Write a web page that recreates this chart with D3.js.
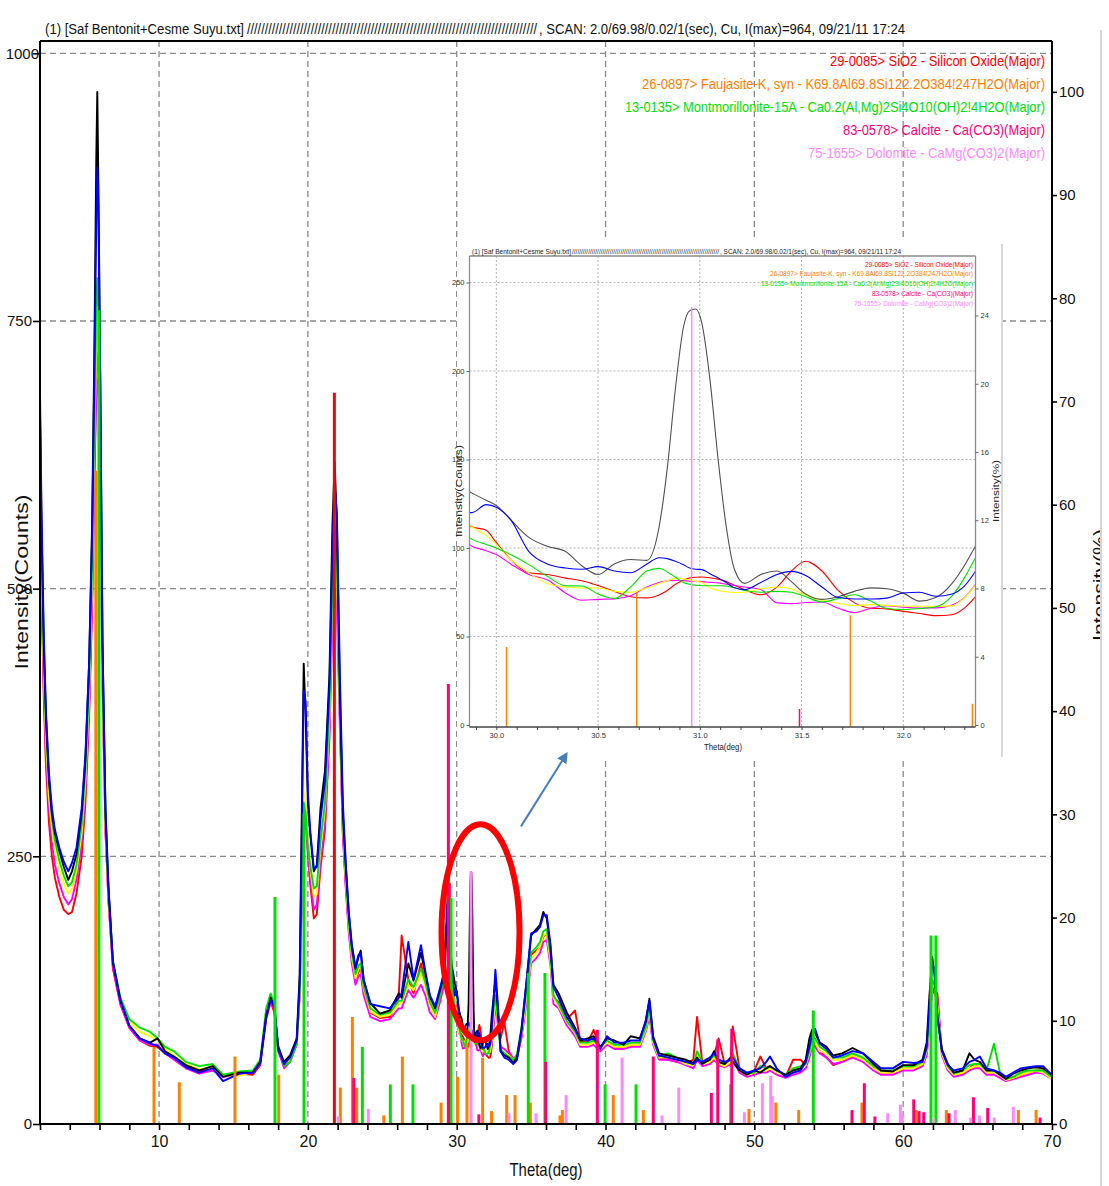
<!DOCTYPE html>
<html>
<head>
<meta charset="utf-8">
<script src="https://cdn.jsdelivr.net/npm/d3@7/dist/d3.min.js"></script>
<style>
  html, body { margin:0; padding:0; background:#ffffff; }
  svg { display:block; }
  text { font-family: "Liberation Sans Narrow", "Liberation Sans", Arial, sans-serif; }
</style>
</head>
<body>
<svg id="chart" width="1109" height="1186"></svg>
<script>
// ---------------- DATA ----------------
const imax = 964;
const titlePrefix = "(1) [Saf Bentonit+Cesme Suyu.txt]";
const titleSlashes = "//////////////////////////////////////////////////////////////////////////////////";
const titleSuffix = ", SCAN: 2.0/69.98/0.02/1(sec), Cu, I(max)=964, 09/21/11 17:24";

const phaseLabels = [
  "29-0085> SiO2 - Silicon Oxide(Major)",
  "26-0897> Faujasite-K, syn - K69.8Al69.8Si122.2O384!247H2O(Major)",
  "13-0135> Montmorillonite-15A - Ca0.2(Al,Mg)2Si4O10(OH)2!4H2O(Major)",
  "83-0578> Calcite - Ca(CO3)(Major)",
  "75-1655> Dolomite - CaMg(CO3)2(Major)"
];

const xTickLabelsMain = [10, 20, 30, 40, 50, 60, 70];
const countTicks = [0, 250, 500, 750, 1000];
const pctTicks = [0, 10, 20, 30, 40, 50, 60, 70, 80, 90, 100];
const insetXTickLabels = [30.0, 30.5, 31.0, 31.5, 32.0];
const insetCountTicks = [0, 50, 100, 150, 200, 250];
const insetPctTicks = [0, 4, 8, 12, 16, 20, 24];

// 2-theta sampling (deg)
const thetaLow = [
  2.0, 2.1, 2.25, 2.4, 2.6, 2.8, 3.0, 3.3, 3.6, 3.9,
  4.15, 4.45, 4.8, 5.05, 5.3, 5.5, 5.65, 5.78, 5.85, 5.92,
  6.05, 6.2, 6.4, 6.6, 6.9, 7.4, 8.0, 8.7, 9.4, 9.9,
  10.4, 11.0, 11.8, 12.7, 13.6, 14.3, 15.4, 16.3, 16.8, 17.2,
  17.5, 17.75, 18.0, 18.4, 18.8, 19.25, 19.45, 19.6, 19.72, 19.85,
  20.0, 20.15, 20.4, 20.6, 20.85, 21.15, 21.45, 21.65, 21.8, 21.95,
  22.15, 22.35, 22.55, 22.75, 22.95, 23.2, 23.4, 23.55, 23.75, 24.2,
  24.85, 25.5, 26.1, 26.3, 26.75, 27.1, 27.6, 27.9, 28.2, 28.55,
  28.9, 29.15, 29.4, 29.65
];
const thetaZoom = [
  29.88, 29.95, 30.0, 30.07, 30.16, 30.25, 30.34, 30.42, 30.5, 30.58,
  30.66, 30.74, 30.8, 30.84, 30.88, 30.92, 30.95, 30.98, 31.01, 31.05,
  31.09, 31.13, 31.17, 31.22, 31.3, 31.38, 31.45, 31.52, 31.6, 31.68,
  31.76, 31.84, 31.92, 32.0, 32.08, 32.16, 32.24, 32.3, 32.35
];
const thetaHigh = [
  32.6, 32.75, 32.95, 33.2, 33.5, 33.8, 34.05, 34.35, 34.7, 35.0,
  35.35, 35.6, 35.82, 36.05, 36.3, 36.5, 36.85, 37.4, 37.95, 38.3,
  38.8, 39.2, 39.65, 40.1, 40.6, 41.2, 41.7, 42.3, 42.7, 42.95,
  43.2, 43.6, 44.2, 44.8, 45.4, 45.9, 46.15, 46.5, 47.0, 47.3,
  47.6, 48.0, 48.4, 48.55, 49.0, 49.5, 50.0, 50.4, 50.8, 51.05,
  51.5, 52.1, 52.6, 53.1, 53.45, 53.7, 53.88, 54.08, 54.4, 54.85,
  55.3, 55.9, 56.6, 57.3, 58.0, 58.5, 59.3, 60.0, 60.7, 61.3,
  61.58, 61.76, 61.95, 62.1, 62.3, 62.6, 63.0, 63.4, 64.0, 64.45,
  64.8, 65.15, 65.6, 66.1, 66.5, 66.9, 67.4, 67.9, 68.4, 68.9,
  69.4, 69.98
];

// Measured intensities (counts), one array set per scan
const blackLow = [
  665, 560, 450, 380, 322, 290, 272, 255, 240, 228,
  236, 252, 290, 340, 430, 560, 720, 900, 964, 880,
  700, 450, 290, 220, 150, 115, 92, 80, 76, 80,
  68, 63, 55, 50, 54, 44, 48, 48, 58, 100,
  118, 108, 72, 58, 64, 80, 140, 300, 430, 380,
  300, 272, 236, 242, 295, 330, 420, 560, 618, 560,
  400, 290, 240, 196, 166, 145, 156, 162, 134, 113,
  103, 106, 122, 118, 150, 134, 160, 140, 119, 108,
  126, 140, 205, 150
];
const blackZoom = [
  131, 127, 124, 116, 106, 101, 98, 90, 85, 91,
  93.5, 93, 112, 145, 190, 225, 234, 235, 227, 195,
  150, 112, 88, 80, 85, 87, 81, 74, 71, 72.5,
  75.5, 77.5, 77, 74.5, 70, 72, 80, 90, 100
];
const blackHigh = [
  135, 110, 68, 64, 62, 57, 62, 88, 134, 176,
  182, 186, 198, 192, 165, 130, 122, 104, 90, 78,
  80, 82, 72, 80, 78, 74, 82, 80, 95, 117,
  82, 66, 64, 62, 60, 57, 62, 56, 60, 68,
  58, 56, 62, 58, 50, 46, 50, 48, 52, 54,
  50, 46, 50, 52, 60, 80, 88, 85, 76, 72,
  64, 66, 71, 66, 56, 50, 49, 55, 55, 60,
  76, 119, 156, 140, 100, 70, 56, 48, 50, 66,
  60, 58, 50, 50, 46, 42, 47, 50, 52, 53,
  52, 46
];

const blueLow = [
  684, 575, 460, 385, 328, 295, 275, 258, 245, 236,
  244, 258, 295, 345, 430, 550, 700, 840, 893, 860,
  690, 450, 295, 222, 152, 116, 92, 80, 75, 73,
  66, 62, 53, 48, 52, 40, 47, 48, 57, 102,
  116, 110, 70, 56, 62, 78, 132, 280, 405, 395,
  310, 275, 238, 240, 285, 320, 410, 540, 595, 570,
  420, 300, 242, 198, 168, 146, 158, 160, 135, 112,
  110, 108, 118, 122, 170, 135, 167, 142, 120, 110,
  128, 142, 215, 145
];
const blueZoom = [
  120, 124.5, 123, 116, 98, 91, 88.7, 88, 89.5, 87,
  86, 91, 94.5, 94, 92.5, 90.5, 88.7, 88, 87.8, 85.5,
  83, 80.5, 77.5, 76.5, 80.5, 85, 86.8, 84.5, 78, 72,
  71.2, 71.2, 71.7, 74.6, 75, 72.7, 74, 78.4, 86
];
const blueHigh = [
  144, 115, 68, 62, 60, 56, 60, 86, 135, 178,
  180, 184, 195, 195, 168, 128, 118, 100, 88, 80,
  78, 80, 70, 82, 76, 76, 78, 78, 97, 115,
  80, 64, 62, 60, 58, 56, 60, 58, 62, 66,
  60, 58, 60, 62, 52, 48, 50, 52, 58, 63,
  52, 44, 48, 50, 58, 72, 84, 89, 75, 70,
  62, 64, 68, 66, 58, 52, 52, 58, 57, 58,
  72, 110, 150, 145, 100, 68, 55, 50, 52, 58,
  60, 63, 52, 50, 48, 44, 48, 52, 53, 54,
  54, 46
];

const greenLow = [
  654, 545, 440, 372, 318, 285, 265, 246, 232, 222,
  226, 242, 280, 330, 410, 520, 650, 760, 790, 770,
  640, 430, 285, 218, 152, 118, 98, 90, 86, 80,
  72, 68, 58, 54, 56, 46, 49, 50, 60, 108,
  122, 112, 74, 54, 58, 75, 125, 230, 300, 290,
  260, 242, 220, 222, 265, 300, 390, 500, 550, 520,
  390, 285, 232, 188, 160, 140, 148, 150, 128, 108,
  102, 104, 115, 115, 135, 128, 145, 132, 114, 104,
  120, 140, 200, 140
];
const greenZoom = [
  105, 102, 100, 96.3, 90.6, 84, 78.7, 78.5, 74, 71.5,
  78, 87, 88.5, 86.5, 83.5, 80.5, 79.5, 79, 78.7, 78.7,
  78.7, 78.5, 77.5, 76, 75, 75.5, 75, 72.5, 69.5, 71.5,
  73.6, 70, 65.8, 65.2, 65.8, 66.8, 73, 83, 93.4
];
const greenHigh = [
  120, 100, 70, 66, 63, 60, 65, 90, 125, 160,
  165, 170, 180, 182, 158, 120, 112, 96, 86, 76,
  76, 78, 72, 78, 74, 74, 76, 76, 90, 108,
  78, 63, 66, 62, 58, 56, 68, 58, 60, 64,
  58, 56, 60, 66, 52, 47, 48, 54, 52, 54,
  50, 46, 52, 54, 56, 68, 80, 80, 72, 68,
  62, 62, 66, 62, 54, 50, 50, 54, 54, 58,
  70, 100, 135, 130, 105, 68, 54, 47, 50, 55,
  56, 56, 50, 75, 48, 42, 44, 48, 50, 50,
  50, 44
];

const yellowLow = [
  629, 525, 425, 360, 305, 275, 255, 238, 224, 215,
  220, 236, 272, 320, 400, 510, 640, 720, 740, 730,
  620, 420, 280, 215, 150, 117, 96, 86, 82, 78,
  70, 64, 56, 51, 53, 45, 45, 49, 60, 106,
  120, 110, 72, 56, 60, 76, 126, 235, 310, 300,
  265, 240, 212, 215, 258, 295, 380, 495, 545, 515,
  385, 280, 228, 185, 156, 136, 145, 148, 126, 105,
  100, 102, 112, 114, 130, 125, 140, 128, 110, 100,
  122, 145, 225, 145
];
const yellowZoom = [
  112, 107, 102, 93.4, 86, 80, 78, 77.4, 77.4, 75.5,
  75, 77.5, 80, 81.5, 83, 82.5, 82, 81.3, 80.5, 77.5,
  76, 75.3, 74.8, 75, 77, 78, 76.8, 73.5, 70.5, 68.8,
  67.5, 68, 67.6, 67.2, 67.1, 67.1, 67.3, 72, 78.4
];
const yellowHigh = [
  118, 98, 68, 66, 64, 60, 64, 84, 120, 155,
  160, 166, 176, 178, 152, 118, 110, 95, 85, 74,
  74, 76, 70, 76, 72, 72, 74, 74, 88, 105,
  76, 62, 62, 60, 56, 55, 64, 56, 58, 62,
  56, 54, 58, 62, 50, 46, 48, 50, 50, 52,
  48, 45, 50, 52, 55, 66, 76, 76, 68, 66,
  60, 60, 64, 60, 52, 48, 48, 52, 52, 56,
  68, 96, 132, 128, 110, 66, 52, 46, 48, 52,
  54, 54, 48, 48, 45, 41, 43, 46, 48, 50,
  48, 42
];

const magentaLow = [
  608, 505, 410, 345, 295, 262, 242, 225, 212, 205,
  210, 228, 262, 312, 390, 490, 600, 680, 695, 690,
  600, 410, 275, 210, 146, 112, 90, 78, 74, 74,
  66, 60, 52, 47, 50, 44, 46, 48, 57, 100,
  115, 106, 70, 52, 58, 74, 120, 220, 290, 285,
  250, 230, 200, 205, 245, 280, 360, 470, 500, 480,
  370, 270, 220, 178, 150, 130, 138, 140, 120, 100,
  96, 98, 108, 108, 125, 118, 130, 120, 104, 98,
  115, 130, 195, 135
];
const magentaZoom = [
  101, 98.5, 96.3, 91, 85, 82, 74.6, 70.5, 71, 71.2,
  73, 78, 80.5, 81.5, 81.6, 81.5, 81.3, 81.2, 81, 80.6,
  80.3, 79.5, 78.8, 78, 76.5, 69, 68.6, 69.2, 69.5, 66,
  63.5, 66, 67.4, 66.5, 66.1, 66.2, 67.8, 72, 78.7
];
const magentaHigh = [
  112, 95, 72, 70, 66, 62, 62, 80, 115, 150,
  155, 160, 170, 172, 148, 112, 108, 92, 82, 72,
  72, 74, 68, 74, 70, 70, 72, 72, 86, 100,
  74, 60, 60, 58, 55, 52, 60, 54, 56, 60,
  55, 53, 56, 60, 48, 44, 46, 48, 48, 50,
  46, 43, 46, 48, 52, 62, 72, 72, 66, 62,
  56, 58, 62, 58, 50, 46, 46, 50, 50, 54,
  64, 92, 125, 122, 118, 64, 50, 44, 46, 50,
  52, 52, 46, 46, 43, 40, 42, 44, 46, 48,
  47, 42
];

const redLow = [
  600, 495, 400, 335, 282, 250, 230, 212, 200, 196,
  198, 215, 250, 300, 380, 480, 600, 700, 720, 710,
  610, 410, 272, 208, 145, 112, 90, 78, 73, 72,
  66, 61, 54, 49, 53, 45, 47, 46, 55, 98,
  114, 104, 68, 54, 60, 75, 122, 225, 295, 290,
  255, 225, 192, 196, 240, 275, 370, 500, 560, 520,
  380, 272, 222, 182, 155, 135, 142, 145, 124, 104,
  99, 100, 118, 176, 135, 122, 150, 132, 110, 102,
  118, 135, 210, 140
];
const redZoom = [
  112, 110, 103, 93.4, 86, 85, 83, 81.5, 78.8, 75.5,
  72.5, 71.8, 73.5, 76, 79.5, 81.8, 83, 83.5, 83.6, 83.2,
  82.4, 81, 79, 76.5, 73.6, 78, 87, 92.5, 87, 76,
  69, 66, 65.6, 64.2, 63, 61.8, 62.3, 66, 71.8
];
const redHigh = [
  110, 105, 80, 95, 68, 60, 62, 82, 120, 158,
  162, 165, 175, 178, 155, 118, 114, 98, 106, 78,
  76, 88, 70, 76, 72, 72, 74, 74, 88, 104,
  76, 62, 60, 58, 57, 60, 100, 58, 58, 64,
  80, 56, 60, 91, 52, 46, 50, 63, 52, 54,
  48, 44, 60, 60, 55, 64, 74, 74, 68, 62,
  55, 58, 64, 60, 52, 48, 48, 54, 52, 56,
  66, 94, 128, 125, 122, 66, 52, 46, 48, 52,
  56, 52, 48, 48, 44, 41, 44, 46, 48, 50,
  50, 44
];

// Reference patterns: [2-theta, height in counts]
const sio2Sticks = [[21.78, 683], [29.5, 225]];
const faujasiteSticks = [
  [5.75, 610], [9.66, 72], [11.36, 39], [15.1, 63], [18.04, 46], [22.18, 34],
  [22.99, 100], [23.28, 34], [25.1, 8], [26.35, 63], [28.95, 20], [30.05, 44],
  [30.69, 75], [31.74, 62], [32.34, 12], [33.36, 27], [33.92, 27], [34.95, 20],
  [36.94, 8], [37.1, 13], [40.52, 27], [42.54, 13], [49.64, 14], [51.44, 20],
  [52.98, 13], [57.23, 20], [60.89, 13], [62.9, 13], [67.74, 13], [68.93, 13]
];
const montmorilloniteSticks = [
  [5.96, 760], [17.79, 212], [19.74, 290], [23.66, 72], [25.54, 37], [27.06, 37],
  [29.62, 211], [34.81, 141], [35.93, 141], [39.97, 37], [42.05, 37], [48.41, 37],
  [53.96, 106], [61.87, 176], [62.2, 176]
];
const calciteSticks = [
  [23.08, 43], [29.44, 411], [31.49, 9], [35.98, 58], [39.45, 88], [43.21, 63],
  [47.11, 29], [47.54, 79], [48.48, 89], [56.56, 13], [57.39, 38], [58.1, 7],
  [60.71, 23], [61.07, 12], [61.38, 11], [63.08, 10], [64.72, 25], [65.68, 15], [69.2, 6]
];
const dolomiteSticks = [
  [22.05, 7], [24.06, 14], [30.96, 236], [33.51, 10], [35.33, 10], [37.35, 27],
  [41.11, 62], [43.8, 8], [44.92, 34], [49.33, 11], [50.54, 38], [51.1, 45],
  [51.2, 26], [58.96, 10], [59.81, 18], [59.94, 10], [62.05, 5], [63.5, 13],
  [64.54, 6], [65.12, 8], [66.12, 6], [67.4, 16]
];

// ---------------- BUILD ----------------
const theta = thetaLow.concat(thetaZoom, thetaHigh);
const scans = [
  {color: "#ff0000", vals: redLow.concat(redZoom, redHigh)},
  {color: "#ff00ff", vals: magentaLow.concat(magentaZoom, magentaHigh)},
  {color: "#ffff00", vals: yellowLow.concat(yellowZoom, yellowHigh)},
  {color: "#00e000", vals: greenLow.concat(greenZoom, greenHigh)},
  {color: "#000000", insetColor: "#505050", vals: blackLow.concat(blackZoom, blackHigh)},
  {color: "#0000ff", vals: blueLow.concat(blueZoom, blueHigh)}
].map(s => ({...s, pts: theta.map((t, i) => [t, s.vals[i]])}));

const phases = [
  {color: "#ff0000", sticks: sio2Sticks},
  {color: "#ff8000", sticks: faujasiteSticks},
  {color: "#00e000", sticks: montmorilloniteSticks},
  {color: "#ff0077", sticks: calciteSticks},
  {color: "#ff88ff", sticks: dolomiteSticks}
];

const svg = d3.select("#chart");
const P = {l: 40, r: 1052, t: 41, b: 1124};
const x = d3.scaleLinear().domain([2, 70]).range([P.l, P.r]);
const y = d3.scaleLinear().domain([0, 1000]).range([P.b, 53.3]);
const yPct = d3.scaleLinear().domain([0, 100]).range([P.b, y(imax)]);

const defs = svg.append("defs");
defs.append("clipPath").attr("id", "clipMain").append("rect")
  .attr("x", P.l).attr("y", P.t).attr("width", P.r - P.l).attr("height", P.b - P.t);
defs.append("clipPath").attr("id", "clipEdge").append("rect")
  .attr("x", 0).attr("y", 0).attr("width", 1100).attr("height", 1186);
defs.append("marker").attr("id", "arrowHead").attr("viewBox", "0 0 10 10")
  .attr("refX", 6).attr("refY", 5).attr("markerWidth", 5.5).attr("markerHeight", 5.5)
  .attr("orient", "auto").append("path").attr("d", "M0,0L10,5L0,10z").attr("fill", "#4a7ebb");

// grid
const gGrid = svg.append("g").attr("stroke", "#8a8a8a").attr("stroke-width", 1.3).attr("stroke-dasharray", "6,4");
gGrid.selectAll(".gv").data(xTickLabelsMain.slice(0, -1)).join("line")
  .attr("x1", d => x(d)).attr("x2", d => x(d)).attr("y1", P.t).attr("y2", P.b);
gGrid.selectAll(".gh").data(countTicks.slice(1)).join("line")
  .attr("x1", P.l).attr("x2", P.r).attr("y1", d => y(d)).attr("y2", d => y(d));

// scans
const line = d3.line().x(d => x(d[0])).y(d => y(d[1]));
const gScans = svg.append("g").attr("clip-path", "url(#clipMain)");
gScans.selectAll("path").data(scans).join("path")
  .attr("d", d => line(d.pts)).attr("fill", "none")
  .attr("stroke", d => d.color).attr("stroke-width", 1.9).attr("stroke-linejoin", "round");

// reference sticks
const gSticks = svg.append("g").attr("clip-path", "url(#clipMain)");
phases.forEach(ph => {
  gSticks.append("g").selectAll("line").data(ph.sticks).join("line")
    .attr("x1", d => x(d[0])).attr("x2", d => x(d[0]))
    .attr("y1", y(0)).attr("y2", d => y(d[1]))
    .attr("stroke", ph.color).attr("stroke-width", 3);
});

// axes
const xAxis = d3.axisBottom(x).tickValues(d3.range(2, 71, 2))
  .tickFormat(d => xTickLabelsMain.includes(d) ? d : "")
  .tickSize(6).tickSizeOuter(0).tickPadding(6);
const gx = svg.append("g").attr("transform", `translate(0,${P.b})`).call(xAxis);
gx.select(".domain").remove();
gx.selectAll(".tick line").attr("stroke", "#000").attr("stroke-width", 1.6);
gx.selectAll("text").attr("font-size", 16).attr("fill", "#111");

const yAxis = d3.axisLeft(y).tickValues(countTicks).tickFormat(d3.format("d"))
  .tickSize(7).tickSizeOuter(0).tickPadding(1);
const gy = svg.append("g").attr("transform", `translate(${P.l},0)`).call(yAxis);
gy.select(".domain").remove();
gy.selectAll(".tick line").attr("stroke", "#000").attr("stroke-width", 1.6);
gy.selectAll("text").attr("font-size", 15).attr("fill", "#111")
  .attr("x", d => String(d).length > 3 ? -1 : -8);

const yAxisR = d3.axisRight(yPct).tickValues(pctTicks).tickFormat(d3.format("d"))
  .tickSize(5).tickSizeOuter(0).tickPadding(2);
const gyr = svg.append("g").attr("transform", `translate(${P.r},0)`).call(yAxisR);
gyr.select(".domain").remove();
gyr.selectAll(".tick line").attr("stroke", "#000").attr("stroke-width", 1.6);
gyr.selectAll("text").attr("font-size", 15).attr("fill", "#111");

// frame
const gFrame = svg.append("g").attr("stroke", "#000").attr("stroke-width", 2);
gFrame.append("line").attr("x1", P.l).attr("x2", P.r).attr("y1", P.t).attr("y2", P.t);
gFrame.append("line").attr("x1", P.l).attr("x2", P.r).attr("y1", P.b).attr("y2", P.b);
gFrame.append("line").attr("x1", P.l).attr("x2", P.l).attr("y1", P.t).attr("y2", P.b);
gFrame.append("line").attr("x1", P.r).attr("x2", P.r).attr("y1", P.t).attr("y2", P.b);

// title
const title = svg.append("text").attr("y", 34).attr("font-size", 14).attr("fill", "#111");
title.append("tspan").attr("x", 45).attr("textLength", 199).attr("lengthAdjust", "spacingAndGlyphs").text(titlePrefix);
title.append("tspan").attr("x", 247).attr("textLength", 290).attr("lengthAdjust", "spacingAndGlyphs").text(titleSlashes);
title.append("tspan").attr("x", 539).attr("textLength", 366).attr("lengthAdjust", "spacingAndGlyphs").text(titleSuffix);

// legend
const legendWidths = [215, 403, 420, 202, 237];
svg.append("g").selectAll("text").data(phaseLabels).join("text")
  .attr("x", 1045).attr("y", (d, i) => 66 + i * 23).attr("text-anchor", "end")
  .attr("font-size", 15).attr("fill", (d, i) => phases[i].color)
  .attr("textLength", (d, i) => legendWidths[i]).attr("lengthAdjust", "spacingAndGlyphs")
  .text(d => d);

// axis titles
svg.append("text").attr("transform", "translate(28,582) rotate(-90)").attr("text-anchor", "middle")
  .attr("font-size", 18).attr("fill", "#111").attr("textLength", 175).attr("lengthAdjust", "spacingAndGlyphs")
  .text("Intensity(Counts)");
svg.append("text").attr("x", 546).attr("y", 1176).attr("text-anchor", "middle")
  .attr("font-size", 19).attr("fill", "#111").attr("textLength", 73).attr("lengthAdjust", "spacingAndGlyphs")
  .text("Theta(deg)");
svg.append("g").attr("clip-path", "url(#clipEdge)")
  .append("text").attr("transform", "translate(1106,585) rotate(-90)").attr("text-anchor", "middle")
  .attr("font-size", 18).attr("fill", "#111").attr("textLength", 112).attr("lengthAdjust", "spacingAndGlyphs")
  .text("Intensity(%)");
svg.append("line").attr("x1", 1101).attr("x2", 1101).attr("y1", 30).attr("y2", 1186)
  .attr("stroke", "#d4d4d4").attr("stroke-width", 2);

// highlight ellipse
svg.append("ellipse").attr("cx", x(31.6)).attr("cy", y(179)).attr("rx", 39).attr("ry", 108)
  .attr("fill", "none").attr("stroke", "#ff0000").attr("stroke-width", 6);

// ---------------- INSET ----------------
const I = {l: 469.5, r: 975.5, t: 256, b: 727};
const xi = d3.scaleLinear().domain([29.868, 32.355]).range([I.l, I.r]);
const yi = d3.scaleLinear().domain([0, 250]).range([725, 282.5]);
const yiPct = d3.scaleLinear().domain([0, 24]).range([725, yi(imax * 0.24)]);

defs.append("clipPath").attr("id", "clipInset").append("rect")
  .attr("x", I.l).attr("y", I.t).attr("width", I.r - I.l).attr("height", I.b - I.t);

const gIn = svg.append("g");
gIn.append("rect").attr("x", 457).attr("y", 240).attr("width", 545).attr("height", 518).attr("fill", "#fff");
gIn.append("line").attr("x1", 1002).attr("x2", 1002).attr("y1", 244).attr("y2", 757)
  .attr("stroke", "#d9d9d9").attr("stroke-width", 2);

const gInGrid = gIn.append("g").attr("stroke", "#a0a0a0").attr("stroke-width", 0.8).attr("stroke-dasharray", "2,2");
gInGrid.selectAll(".v").data(insetXTickLabels).join("line")
  .attr("x1", d => xi(d)).attr("x2", d => xi(d)).attr("y1", I.t).attr("y2", I.b);
gInGrid.selectAll(".h").data(insetCountTicks.slice(1)).join("line")
  .attr("x1", I.l).attr("x2", I.r).attr("y1", d => yi(d)).attr("y2", d => yi(d));

const lineIn = d3.line().x(d => xi(d[0])).y(d => yi(d[1])).curve(d3.curveMonotoneX);
const gInScans = gIn.append("g").attr("clip-path", "url(#clipInset)");
gInScans.selectAll("path").data(scans).join("path")
  .attr("d", d => lineIn(d.pts.filter(p => p[0] > 29.6 && p[0] < 32.7)))
  .attr("fill", "none").attr("stroke", d => d.insetColor || d.color).attr("stroke-width", 1.1);

const gInSticks = gIn.append("g").attr("clip-path", "url(#clipInset)");
phases.forEach(ph => {
  gInSticks.append("g").selectAll("line").data(ph.sticks).join("line")
    .attr("x1", d => xi(d[0])).attr("x2", d => xi(d[0]))
    .attr("y1", I.b).attr("y2", d => yi(d[1]))
    .attr("stroke", ph.color).attr("stroke-width", 1.5);
});

// inset frame
gIn.append("line").attr("x1", I.l).attr("x2", I.r).attr("y1", I.t).attr("y2", I.t).attr("stroke", "#8c8c8c").attr("stroke-width", 1.3);
gIn.append("line").attr("x1", I.l).attr("x2", I.l).attr("y1", I.t).attr("y2", I.b).attr("stroke", "#8c8c8c").attr("stroke-width", 1.3);
gIn.append("line").attr("x1", I.r).attr("x2", I.r).attr("y1", I.t).attr("y2", I.b).attr("stroke", "#8c8c8c").attr("stroke-width", 1.3);
gIn.append("line").attr("x1", I.l).attr("x2", I.r).attr("y1", I.b).attr("y2", I.b).attr("stroke", "#444").attr("stroke-width", 1.3);

const isHalf = d => Math.abs(d * 2 - Math.round(d * 2)) < 1e-6;
const xiAxis = d3.axisBottom(xi).tickValues(d3.range(29.9, 32.36, 0.1))
  .tickFormat(d => isHalf(d) ? d3.format(".1f")(d) : "").tickSize(3).tickSizeOuter(0).tickPadding(3);
const gxi = gIn.append("g").attr("transform", `translate(0,${I.b})`).call(xiAxis);
gxi.select(".domain").remove();
gxi.selectAll(".tick line").attr("stroke", "#444");
gxi.selectAll("text").attr("font-size", 7.5).attr("fill", "#333");

const yiAxis = d3.axisLeft(yi).tickValues(insetCountTicks).tickSize(3).tickSizeOuter(0).tickPadding(2);
const gyi = gIn.append("g").attr("transform", `translate(${I.l},0)`).call(yiAxis);
gyi.select(".domain").remove();
gyi.selectAll(".tick line").attr("stroke", "#666");
gyi.selectAll("text").attr("font-size", 7.5).attr("fill", "#333");

const yiAxisR = d3.axisRight(yiPct).tickValues(insetPctTicks).tickSize(3).tickSizeOuter(0).tickPadding(2);
const gyir = gIn.append("g").attr("transform", `translate(${I.r},0)`).call(yiAxisR);
gyir.select(".domain").remove();
gyir.selectAll(".tick line").attr("stroke", "#666");
gyir.selectAll("text").attr("font-size", 7.5).attr("fill", "#333");

const tIn = gIn.append("text").attr("y", 253.5).attr("font-size", 7.5).attr("fill", "#222");
tIn.append("tspan").attr("x", 472).attr("textLength", 99).attr("lengthAdjust", "spacingAndGlyphs").text(titlePrefix);
tIn.append("tspan").attr("x", 572).attr("textLength", 147).attr("lengthAdjust", "spacingAndGlyphs").text(titleSlashes);
tIn.append("tspan").attr("x", 720).attr("textLength", 181).attr("lengthAdjust", "spacingAndGlyphs").text(titleSuffix);

const insetLegendWidths = [108, 203, 212, 101, 119];
gIn.append("g").selectAll("text").data(phaseLabels).join("text")
  .attr("x", 973).attr("y", (d, i) => 266.5 + i * 9.9).attr("text-anchor", "end")
  .attr("font-size", 7.5).attr("fill", (d, i) => phases[i].color)
  .attr("textLength", (d, i) => insetLegendWidths[i]).attr("lengthAdjust", "spacingAndGlyphs")
  .text(d => d);

gIn.append("text").attr("transform", "translate(462,491) rotate(-90)").attr("text-anchor", "middle")
  .attr("font-size", 8.5).attr("fill", "#222").attr("textLength", 92).attr("lengthAdjust", "spacingAndGlyphs")
  .text("Intensity(Counts)");
gIn.append("text").attr("transform", "translate(999,491) rotate(-90)").attr("text-anchor", "middle")
  .attr("font-size", 8.5).attr("fill", "#222").attr("textLength", 62).attr("lengthAdjust", "spacingAndGlyphs")
  .text("Intensity(%)");
gIn.append("text").attr("x", 723).attr("y", 750).attr("text-anchor", "middle")
  .attr("font-size", 8.5).attr("fill", "#222").attr("textLength", 38).attr("lengthAdjust", "spacingAndGlyphs")
  .text("Theta(deg)");

// arrow from ellipse to inset
svg.append("line").attr("x1", x(34.32)).attr("y1", y(278)).attr("x2", x(37.3)).attr("y2", y(344))
  .attr("stroke", "#4a7ebb").attr("stroke-width", 2).attr("marker-end", "url(#arrowHead)");
</script>
</body>
</html>
